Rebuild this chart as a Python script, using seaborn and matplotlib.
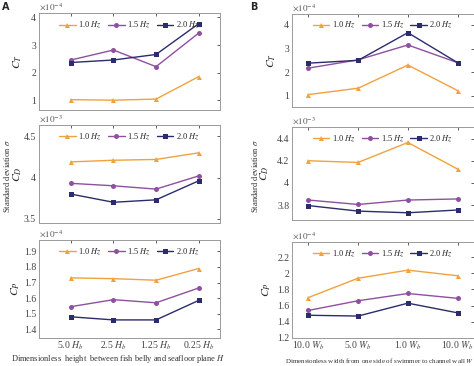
#!/usr/bin/env python3
import pandas as pd
import matplotlib
matplotlib.use('Agg')
import matplotlib.pyplot as plt
import seaborn as sns

# values, in units of the axis multiplier (x10^n)
freqs = ['1.0 Hz', '1.5 Hz', '2.0 Hz']
labels_a = ['5.0 $H_b$', '2.5 $H_b$', '1.25 $H_b$', '0.25 $H_b$']
labels_b = ['10.0 $W_b$', '5.0 $W_b$', '1.0 $W_b$', '10.0 $W_b$']

ct_a = [[1.03, 1.01, 1.05, 1.86], [2.46, 2.82, 2.22, 3.43], [2.37, 2.46, 2.66, 3.77]]
cd_a = [[4.19, 4.21, 4.22, 4.30], [3.93, 3.90, 3.86, 4.02], [3.80, 3.70, 3.73, 3.96]]
cp_a = [[1.73, 1.725, 1.715, 1.79], [1.545, 1.59, 1.57, 1.665], [1.48, 1.46, 1.46, 1.585]]

ct_b = [[1.05, 1.32, 2.30, 1.22], [2.17, 2.52, 3.15, 2.40], [2.38, 2.50, 3.67, 2.40]]
cd_b = [[4.20, 4.185, 4.365, 4.125], [3.845, 3.805, 3.845, 3.855], [3.795, 3.745, 3.73, 3.755]]
cp_b = [[1.70, 1.94, 2.04, 1.97], [1.54, 1.66, 1.75, 1.69], [1.48, 1.47, 1.63, 1.51]]

exps = ['-4', '-3', '-4']
colours = ['#F0A23E', '#8E50A0', '#2A2C6C']
markers = ['^', 'o', 's']


def to_frame(series):
    rows = []
    for f, vals in zip(freqs, series):
        for i, v in enumerate(vals):
            rows.append({'pos': i, 'value': v, 'freq': f})
    return pd.DataFrame(rows)


def draw_panel(ax, series, exp, ylabel, ylim, yticks, xlim, xlabels, show_x, label_x):
    df = to_frame(series)
    sns.lineplot(data=df, x='pos', y='value', hue='freq', style='freq',
                 palette=colours, markers=markers, dashes=False,
                 markersize=3.6, linewidth=1.0, markeredgewidth=0, ax=ax)
    ax.set_xlim(*xlim)
    ax.set_ylim(*ylim)
    ax.set_yticks(yticks)
    ax.set_yticklabels(['%g' % t for t in yticks])
    ax.set_xticks(range(4))
    if show_x:
        ax.set_xticklabels(xlabels, fontsize=6.5)
    else:
        ax.set_xticklabels([])
    ax.set_xlabel('')
    ax.set_ylabel(ylabel, fontsize=8.5)
    ax.yaxis.set_label_coords(label_x, 0.5)
    ax.tick_params(direction='in', length=2.5, width=0.6, top=True, right=True,
                   labelsize=7, colors='#444444', pad=2)
    ax.tick_params(axis='x', pad=1.5)
    for sp in ax.spines.values():
        sp.set_color('#9a9a9a')
        sp.set_linewidth(0.7)
    ax.text(0.0, 1.01, r'$\times10^{%s}$' % exp, transform=ax.transAxes,
            fontsize=6.5, color='#555555', ha='left', va='bottom')
    handles, labs = ax.get_legend_handles_labels()
    labs = [r'%s $Hz$' % l.split()[0] for l in labs]
    ax.legend(handles, labs, loc='upper center', ncol=3, frameon=False,
              fontsize=6, handlelength=2.0, handletextpad=0.3,
              columnspacing=0.7, borderaxespad=0.4)


def main():
    sns.set_theme(style='white')
    plt.rcParams['font.family'] = ['Liberation Serif', 'DejaVu Serif']
    plt.rcParams['mathtext.fontset'] = 'stix'

    fig = plt.figure(figsize=(4.74, 3.66), dpi=100)

    a_rects = [[0.082, 0.699, 0.382, 0.265], [0.082, 0.391, 0.382, 0.268], [0.082, 0.077, 0.382, 0.268]]
    b_rects = [[0.616, 0.708, 0.384, 0.255], [0.616, 0.399, 0.384, 0.254], [0.616, 0.077, 0.384, 0.262]]
    a_label_x = [-0.08, -0.08, -0.095]
    b_label_x = [-0.078, -0.115, -0.105]

    panel_a = [(ct_a, (0.65, 4.15), [1, 2, 3, 4]),
               (cd_a, (3.45, 4.64), [3.5, 4, 4.5]),
               (cp_a, (1.345, 1.975), [1.4, 1.5, 1.6, 1.7, 1.8, 1.9])]
    panel_b = [(ct_b, (0.53, 4.48), [1, 2, 3, 4]),
               (cd_b, (3.665, 4.505), [3.8, 4, 4.2, 4.4]),
               (cp_b, (1.2, 2.39), [1.2, 1.4, 1.6, 1.8, 2, 2.2])]
    ylabels = ['$C_T$', '$C_D$', '$C_P$']

    for i, (series, ylim, yticks) in enumerate(panel_a):
        ax = fig.add_axes(a_rects[i])
        draw_panel(ax, series, exps[i], ylabels[i], ylim, yticks,
                   (-0.75, 3.5), labels_a, i == 2, a_label_x[i])
    for i, (series, ylim, yticks) in enumerate(panel_b):
        ax = fig.add_axes(b_rects[i])
        draw_panel(ax, series, exps[i], ylabels[i], ylim, yticks,
                   (-0.33, 3.33), labels_b, i == 2, b_label_x[i])

    fig.text(0.25, 0.004, 'Dimensionless  height  between fish belly and seafloor plane $H$',
             ha='center', va='bottom', fontsize=6, color='#333333')
    fig.text(0.80, 0.004, 'Dimensionless width from one side of swimmer to channel wall $W$',
             ha='center', va='bottom', fontsize=5.0, color='#333333')
    fig.text(0.014, 0.52, r'Standard deviation $\sigma$', rotation=90,
             ha='center', va='center', fontsize=6.2, color='#333333')
    fig.text(0.538, 0.52, r'Standard deviation $\sigma$', rotation=90,
             ha='center', va='center', fontsize=6.2, color='#333333')
    fig.text(0.005, 0.995, 'A', ha='left', va='top', fontsize=7, weight='bold',
             family='DejaVu Sans')
    fig.text(0.528, 0.995, 'B', ha='left', va='top', fontsize=7, weight='bold',
             family='DejaVu Sans')

    fig.savefig('out.png', dpi=100)


if __name__ == '__main__':
    main()
